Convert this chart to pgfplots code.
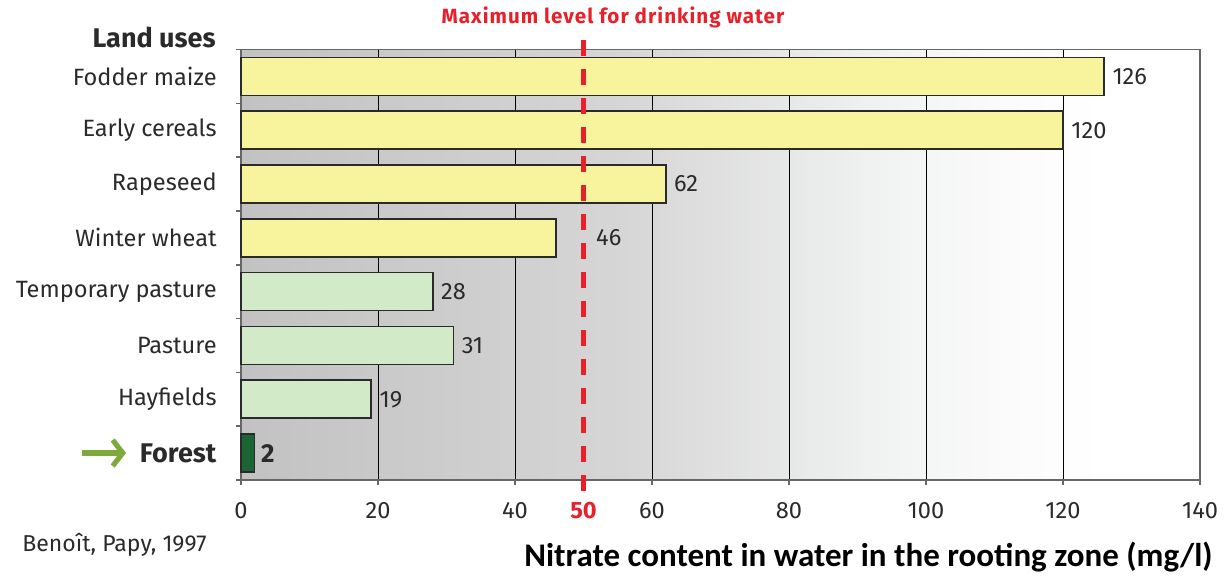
\documentclass[border=0pt]{standalone}
\usepackage{fontspec}
\setmainfont{Fira Sans}
\newfontfamily\titlefont{Carlito}
\usepackage{pgfplots}
\pgfplotsset{compat=1.18}
\usetikzlibrary{arrows.meta}
\definecolor{baryel}{HTML}{F8F39D}
\definecolor{bargrn}{HTML}{D3EAC8}
\definecolor{forestc}{HTML}{1B6535}
\definecolor{redline}{HTML}{E8202A}
\definecolor{arrowgrn}{HTML}{7DAA3B}
\definecolor{txt}{HTML}{2A2A2A}
\definecolor{frame}{HTML}{666666}
\definecolor{bgA}{HTML}{C2C2C2}
\definecolor{bgB}{HTML}{D6D6D6}
\definecolor{bgC}{HTML}{F3F4F4}
\definecolor{bgD}{HTML}{FBFBFB}
\pgfdeclarehorizontalshading{bgshade}{100bp}{color(0bp)=(bgA); color(25bp)=(bgA); color(45bp)=(bgB); color(59.5bp)=(bgC); color(65bp)=(bgD); color(70bp)=(white); color(100bp)=(white)}
\begin{document}
\begin{tikzpicture}
\useasboundingbox (0,0) rectangle (612pt,289pt);
\begin{axis}[
  at={(120.5pt,49pt)}, anchor=south west,
  scale only axis, width=479.5pt, height=215.25pt,
  xmin=0, xmax=140, ymin=-0.5, ymax=7.5, y dir=reverse,
  clip=false,
  axis background/.style={shade, shading=bgshade, shading angle=0},
  axis line style={draw=frame, line width=0.8pt},
  xtick={0,20,...,140}, xtick pos=bottom, tick align=outside,
  major tick length=2.5pt,
  xtick style={draw=frame, line width=0.8pt},
  xmajorgrids, grid style={black, line width=0.45pt},
  extra x ticks={50}, extra x tick labels={\textbf{50}},
  extra x tick style={grid=none, xtick style={draw=none}, tick label style={text=redline}},
  ytick={0,...,7},
  yticklabels={Fodder maize, Early cereals, Rapeseed, Winter wheat, Temporary pasture, Pasture, Hayfields, {\fontsize{13.5}{15}\selectfont\textbf{Forest}}},
  ytick pos=left, ytick style={draw=none},
  tick label style={text=txt, font=\fontsize{11.8}{14}\selectfont},
  xticklabel style={yshift=-5pt},
  yticklabel style={font=\fontsize{11.8}{14}\selectfont, inner sep=0pt, xshift=-9.5pt},
  /pgf/number format/assume math mode=true,
]
\addplot[xbar, bar width=19pt, bar shift=0pt, fill=baryel, draw=txt, line width=0.8pt]
  coordinates {(126,0) (120,1) (62,2) (46,3)};
\addplot[xbar, bar width=19pt, bar shift=0pt, fill=bargrn, draw=txt, line width=0.8pt]
  coordinates {(28,4) (31,5) (19,6)};
\addplot[xbar, bar width=19pt, bar shift=0pt, fill=forestc, draw=txt, line width=0.8pt]
  coordinates {(2,7)};
\pgfplotsinvokeforeach{-0.5,0.5,1.5,2.5,3.5,4.5,5.5,6.5,7.5}{
  \draw[frame, line width=0.8pt] (axis cs:0,#1) -- ([xshift=-2.5pt]axis cs:0,#1);
}
\draw[redline, line width=2.5pt, dash pattern=on 8pt off 6.5pt] (axis cs:50,-0.68) -- (axis cs:50,7.72);
\begin{scope}[every node/.style={anchor=west, inner sep=0pt, text=txt, font=\fontsize{11.8}{14}\selectfont}]
\node at (axis cs:126,0) [xshift=4pt] {126};
\node at (axis cs:120,1) [xshift=4pt] {120};
\node at (axis cs:62,2) [xshift=4pt] {62};
\node at (axis cs:51.8,3) {46};
\node at (axis cs:28,4) [xshift=4pt] {28};
\node at (axis cs:31,5) [xshift=4pt] {31};
\node at (axis cs:19,6) [xshift=4pt] {19};
\node at (axis cs:2,7) [xshift=3pt] {\fontsize{13}{15}\selectfont\textbf{2}};
\end{scope}
\end{axis}
\node[text=redline, font=\bfseries\fontsize{10.3}{12}\selectfont\addfontfeature{LetterSpace=5}] at (306.5pt,280.5pt) {Maximum level for drinking water};
\node[anchor=east, inner sep=0pt, text=txt, font=\bfseries\fontsize{13.5}{15}\selectfont] at (108pt,270.5pt) {Land uses};
\draw[arrowgrn, line width=2.6pt, -{Straight Barb[length=5pt, width=13pt]}] (41pt,62.5pt) -- (63pt,62.5pt);
\node[anchor=west, inner sep=0pt, text=txt, font=\fontsize{11.5}{13}\selectfont] at (11pt,16.5pt) {Beno\^{\i}t, Papy, 1997};
\node[anchor=east, inner sep=0pt, text=black, font=\titlefont\bfseries\fontsize{16.5}{18}\selectfont] at (606.5pt,10.5pt) {Nitrate content in water in the rooting zone (mg/l)};
\end{tikzpicture}
\end{document}
